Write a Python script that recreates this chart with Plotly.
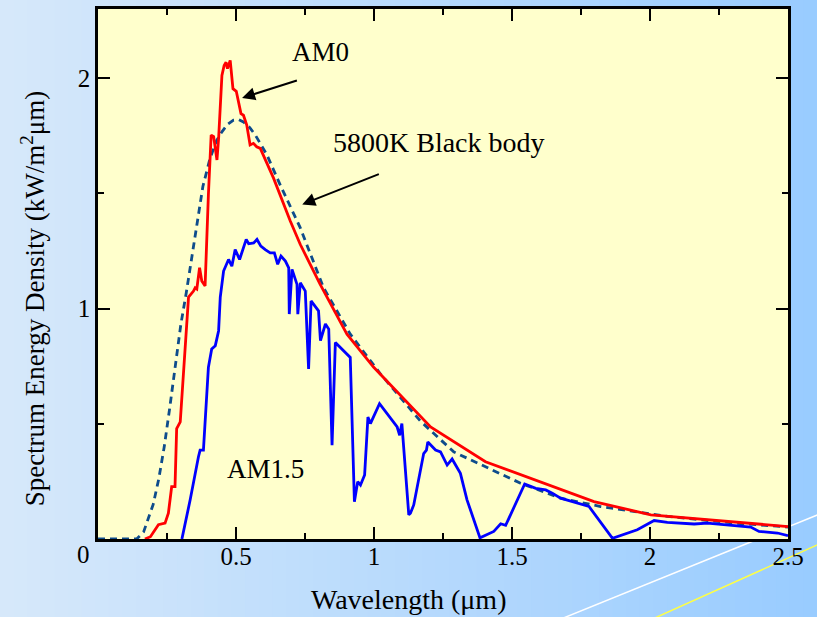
import plotly.graph_objects as go

# ---- data ----
am0_x = [0.17, 0.19, 0.219, 0.243, 0.255, 0.267, 0.279, 0.285, 0.298, 0.310, 0.328, 0.346, 0.352,
         0.358, 0.368, 0.376, 0.388, 0.400, 0.410, 0.419, 0.431, 0.437, 0.449, 0.457, 0.464, 0.469,
         0.479, 0.489, 0.501, 0.518, 0.527, 0.539, 0.551, 0.563, 0.575, 0.588, 0.636, 0.697, 0.733,
         0.805, 0.902, 0.999, 1.205, 1.404, 1.797, 2.003, 2.5]
am0_y = [0.0, 0.01, 0.062, 0.069, 0.112, 0.227, 0.227, 0.479, 0.508, 0.717, 1.05, 1.076, 1.09,
         1.085, 1.177, 1.12, 1.098, 1.494, 1.753, 1.746, 1.645, 1.738, 2.012, 2.055, 2.069, 2.041,
         2.077, 1.954, 1.943, 1.846, 1.839, 1.796, 1.710, 1.717, 1.702, 1.695, 1.566, 1.379, 1.278,
         1.105, 0.889, 0.745, 0.486, 0.335, 0.162, 0.105, 0.054]

bb_x = [0.0, 0.14, 0.165, 0.18, 0.20, 0.22, 0.24, 0.26, 0.28, 0.30, 0.32, 0.34, 0.364, 0.38, 0.406,
        0.43, 0.449, 0.47, 0.491, 0.51, 0.527, 0.55, 0.570, 0.612, 0.660, 0.709, 0.733, 0.817, 0.914,
        1.023, 1.168, 1.289, 1.531, 1.676, 1.821, 2.063, 2.305, 2.5]
bb_y = [0.0, 0.0, 0.03, 0.08, 0.15, 0.26, 0.40, 0.57, 0.75, 0.93, 1.07, 1.22, 1.40, 1.53, 1.652,
        1.73, 1.767, 1.80, 1.818, 1.82, 1.810, 1.785, 1.753, 1.667, 1.537, 1.408, 1.350, 1.091, 0.889,
        0.717, 0.512, 0.378, 0.242, 0.177, 0.141, 0.098, 0.069, 0.052]

am15_x = [0.304, 0.334, 0.364, 0.370, 0.382, 0.400, 0.412, 0.425, 0.437, 0.443, 0.455, 0.473,
          0.485, 0.497, 0.513, 0.537, 0.546, 0.564, 0.576, 0.590, 0.606, 0.624, 0.639, 0.651, 0.663,
          0.679, 0.691, 0.693, 0.703, 0.721, 0.724, 0.733, 0.751, 0.763, 0.772, 0.799, 0.806, 0.824,
          0.836, 0.848, 0.860, 0.890, 0.914, 0.929, 0.941, 0.951, 0.966, 0.978, 0.987, 1.020, 1.084,
          1.093, 1.101, 1.126, 1.132, 1.144, 1.180, 1.190, 1.195, 1.223, 1.241, 1.265, 1.283, 1.313,
          1.337, 1.384, 1.434, 1.459, 1.477, 1.546, 1.586, 1.622, 1.646, 1.676, 1.779, 1.864, 1.954,
          2.015, 2.063, 2.160, 2.208, 2.365, 2.395, 2.462, 2.5]
am15_y = [0.0, 0.17, 0.357, 0.386, 0.386, 0.745, 0.825, 0.839, 0.904, 1.05, 1.163, 1.213,
          1.184, 1.256, 1.213, 1.30, 1.281, 1.285, 1.30, 1.271, 1.256, 1.242, 1.242, 1.192, 1.228,
          1.206, 1.177, 0.976, 1.170, 1.105, 0.976, 1.112, 1.076, 0.738, 1.033, 0.990, 0.861, 0.933,
          0.911, 0.407, 0.853, 0.817, 0.788, 0.162, 0.249, 0.234, 0.278, 0.529, 0.501, 0.587, 0.486,
          0.450, 0.501, 0.105, 0.112, 0.148, 0.371, 0.386, 0.421, 0.386, 0.378, 0.321, 0.347, 0.285,
          0.170, 0.005, 0.033, 0.066, 0.059, 0.239, 0.220, 0.213, 0.199, 0.177, 0.141, 0.003, 0.040,
          0.080, 0.072, 0.065, 0.069, 0.052, 0.033, 0.026, 0.014]

x_tickvals = [0.5, 1, 1.5, 2, 2.5]
x_ticktext = ["0.5", "1", "1.5", "2", "2.5"]
y_tickvals = [1, 2]
y_ticktext = ["1", "2"]

FONT = "Liberation Serif, Times New Roman, serif"

fig = go.Figure()
fig.add_trace(go.Scatter(x=bb_x, y=bb_y, mode="lines",
                         line=dict(color="#0E4C8C", width=2.8, dash="7px,5px")))
fig.add_trace(go.Scatter(x=am15_x, y=am15_y, mode="lines",
                         line=dict(color="#0000FF", width=2.8)))
fig.add_trace(go.Scatter(x=am0_x, y=am0_y, mode="lines",
                         line=dict(color="#FF0000", width=2.8)))

# background gradient strips
shapes = []
n = 60
c0 = (214, 232, 250)
c1 = (153, 204, 255)
W = 690.0
H = 533.0
for i in range(n):
    px0 = 817 * i / n
    px1 = 817 * (i + 1) / n + 1
    t = i / (n - 1)
    col = tuple(round(c0[k] + (c1[k] - c0[k]) * t) for k in range(3))
    shapes.append(dict(type="rect", xref="paper", yref="paper", layer="below",
                       x0=(px0 - 98) / W, x1=(px1 - 98) / W,
                       y0=(539 - 640) / H, y1=(539 + 20) / H,
                       fillcolor="rgb(%d,%d,%d)" % col, line=dict(width=0)))
# decorative diagonal lines
shapes.append(dict(type="line", xref="paper", yref="paper", layer="below",
                   x0=(517 - 98) / W, y0=(539 - 637.4) / H, x1=(867 - 98) / W, y1=(539 - 494.6) / H,
                   line=dict(color="white", width=1.5)))
shapes.append(dict(type="line", xref="paper", yref="paper", layer="below",
                   x0=(608 - 98) / W, y0=(539 - 639.6) / H, x1=(867 - 98) / W, y1=(539 - 522.4) / H,
                   line=dict(color="#FFFF44", width=1.5)))
# plot area
shapes.append(dict(type="rect", xref="paper", yref="paper", layer="below",
                   x0=0, x1=1, y0=0, y1=1, fillcolor="#FFFFCC", line=dict(width=0)))

annotations = [
    dict(text="AM0", x=0.806, y=2.113, xref="x", yref="y", showarrow=False,
         xanchor="center", yanchor="middle",
         font=dict(family=FONT, size=27, color="black")),
    dict(text="5800K Black body", x=1.234, y=1.72, xref="x", yref="y", showarrow=False,
         xanchor="center", yanchor="middle",
         font=dict(family=FONT, size=28, color="black")),
    dict(text="AM1.5", x=0.606, y=0.304, xref="x", yref="y", showarrow=False,
         xanchor="center", yanchor="middle",
         font=dict(family=FONT, size=27, color="black")),
    dict(text="", x=0.522, y=1.914, ax=0.726, ay=1.992, xref="x", yref="y", axref="x", ayref="y",
         showarrow=True, arrowhead=2, arrowsize=1.3, arrowwidth=2, arrowcolor="black"),
    dict(text="", x=0.740, y=1.452, ax=1.023, ay=1.586, xref="x", yref="y", axref="x", ayref="y",
         showarrow=True, arrowhead=2, arrowsize=1.3, arrowwidth=2, arrowcolor="black"),
    dict(text="Wavelength (\u03bcm)", x=(408 - 98) / W, y=(539 - 600) / H, xref="paper", yref="paper",
         xanchor="center", yanchor="middle",
         showarrow=False, font=dict(family=FONT, size=28, color="black")),
    dict(text="Spectrum Energy Density (kW/m<sup>2</sup>\u03bcm)", x=(33 - 98) / W, y=(539 - 297) / H,
         xref="paper", yref="paper", textangle=-90, showarrow=False,
         xanchor="center", yanchor="middle",
         font=dict(family=FONT, size=27, color="black")),
    dict(text="0", x=(83 - 98) / W, y=(539 - 555) / H, xref="paper", yref="paper",
         xanchor="center", yanchor="middle",
         showarrow=False, font=dict(family=FONT, size=25, color="black")),
]

axis_common = dict(showline=True, linecolor="black", linewidth=2.5, mirror="ticks",
                   ticks="inside", ticklen=12, tickwidth=2, tickcolor="black",
                   showgrid=False, zeroline=False, layer="above traces",
                   tickfont=dict(family=FONT, size=25, color="black"))

fig.update_layout(
    width=817, height=617,
    margin=dict(l=98, r=29, t=6, b=78),
    paper_bgcolor="#CFE3F9", plot_bgcolor="rgba(0,0,0,0)",
    showlegend=False,
    shapes=shapes, annotations=annotations,
    xaxis=dict(range=[0, 2.5], tickvals=x_tickvals, ticktext=x_ticktext, ticklabelstandoff=-7,
               minor=dict(ticks="inside", ticklen=6, tickwidth=2, tickcolor="black", dtick=0.25, tick0=0),
               **axis_common),
    yaxis=dict(range=[0, 2.3], tickvals=y_tickvals, ticktext=y_ticktext,
               minor=dict(ticks="inside", ticklen=6, tickwidth=2, tickcolor="black", dtick=0.5, tick0=0),
               **axis_common),
)

fig.write_html("out.html")
